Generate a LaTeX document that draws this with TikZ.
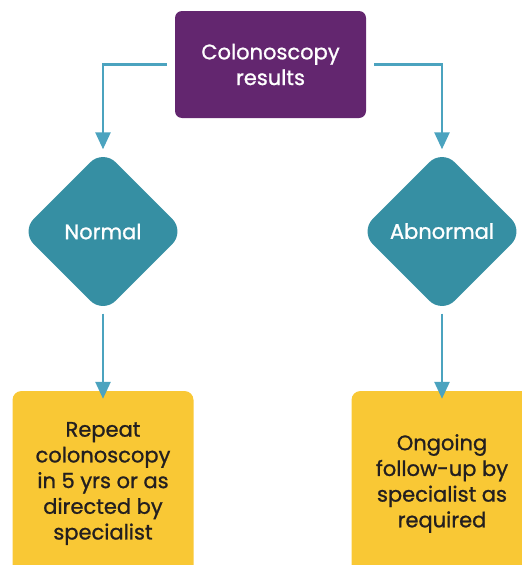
\documentclass[tikz,border=0pt]{standalone}
\usepackage{fontspec}
\setmainfont{Poppins}[FakeBold=1.0]
\usetikzlibrary{shapes.geometric,arrows.meta}
\definecolor{cpurple}{HTML}{63266F}
\definecolor{cteal}{HTML}{368FA3}
\definecolor{carrow}{HTML}{4BA3BF}
\definecolor{cyellow}{HTML}{F9C835}
\definecolor{ctext}{HTML}{231F20}
\tikzset{
  topbox/.style={fill=cpurple, rounded corners=7pt, minimum width=191pt, minimum height=107pt, inner sep=0pt, text=white, align=center, font=\fontsize{21}{25.7}\selectfont},
  decision/.style={diamond, aspect=1, fill=cteal, rounded corners=18pt, minimum width=164pt, minimum height=164pt, inner sep=0pt, text=white, font=\fontsize{21}{25.7}\selectfont},
  outbox/.style={fill=cyellow, rounded corners=9pt, minimum width=181pt, minimum height=185pt, inner sep=0pt, text=ctext, align=center, font=\fontsize{21}{25.7}\selectfont},
  arr/.style={draw=carrow, line width=2.6pt, -{Triangle[length=17pt,width=15pt]}}
}
\begin{document}
\begin{tikzpicture}[x=1pt,y=-1pt]
\useasboundingbox (0,0) rectangle (522,565);
\node[topbox] (top) at (270.5,64.5) {Colonoscopy\\results};
\node[decision] (nl) at (103,231.5) {\raisebox{-2pt}{Normal}};
\node[decision] (ab) at (442,231.5) {\raisebox{1pt}{Abnormal}};
\node[outbox] (rep) at (103,483.5) {Repeat\\colonoscopy\\in 5 yrs or as\\directed by\\specialist};
\node[outbox] (ong) at (442,483.5) {Ongoing\\follow-up by\\specialist as\\required};
\draw[arr] ([xshift=-8pt]top.west) -| (nl.north);
\draw[arr] ([xshift=8pt]top.east) -| (ab.north);
\draw[arr] (nl.south) -- ([yshift=-8pt]rep.north);
\draw[arr] (ab.south) -- ([yshift=-8pt]ong.north);
\end{tikzpicture}
\end{document}
